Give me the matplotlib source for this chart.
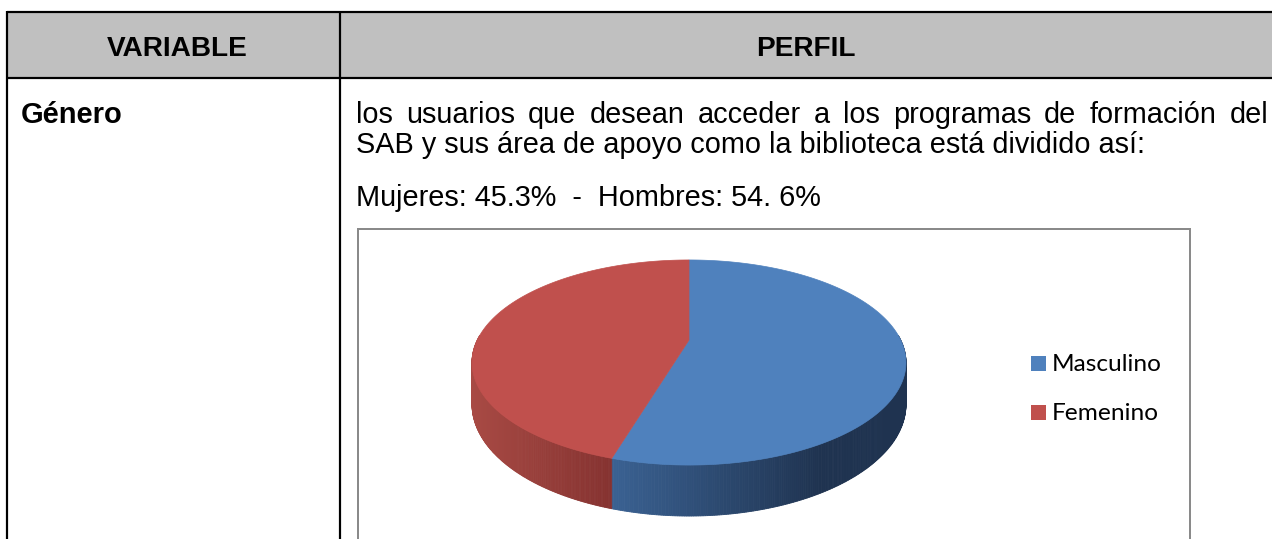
import numpy as np
import matplotlib
matplotlib.use("Agg")
import matplotlib.pyplot as plt
from matplotlib.patches import Polygon, Rectangle

# ---------------- data ----------------
labels = ["Masculino", "Femenino"]
values = [54.6, 45.3]
top_colors = ["#4F81BD", "#C0504D"]
side_light = ["#3A6192", "#A84A44"]
side_dark = ["#1F3350", "#853230"]

headers = ["VARIABLE", "PERFIL"]
variable_name = "Género"
line1_words = "los usuarios que desean acceder a los programas de formación del".split()
line2 = "SAB y sus área de apoyo como la biblioteca está dividido así:"
summary = "Mujeres: 45.3%  -  Hombres: 54. 6%"

# ---------------- figure ----------------
W, H = 1272, 539
fig = plt.figure(figsize=(W / 100, H / 100), dpi=100)
ax = fig.add_axes([0, 0, 1, 1])
ax.set_xlim(0, W)
ax.set_ylim(H, 0)
ax.axis("off")
renderer = fig.canvas.get_renderer()

def px(p):
    return p * 0.72

# table
ax.add_patch(Rectangle((7, 12), W - 7 + 5, 66, facecolor="#C0C0C0", edgecolor="none", zorder=1))
lw_tab = px(2.2)
ax.plot([7, W + 5], [12, 12], color="black", lw=lw_tab, zorder=3, solid_capstyle="butt")
ax.plot([7, W + 5], [78, 78], color="black", lw=lw_tab, zorder=3, solid_capstyle="butt")
ax.plot([7, 7], [11, H + 5], color="black", lw=lw_tab, zorder=3, solid_capstyle="butt")
ax.plot([340, 340], [11, H + 5], color="black", lw=lw_tab, zorder=3, solid_capstyle="butt")

hfont = dict(family="Liberation Sans", weight="bold", fontsize=20.2)
ax.text(177, 56, headers[0], ha="center", va="baseline", **hfont)
ax.text(806, 56, headers[1], ha="center", va="baseline", **hfont)
ax.text(21, 123, variable_name, ha="left", va="baseline",
        family="Liberation Sans", weight="bold", fontsize=21)

bfont = dict(family="Liberation Sans", fontsize=20.8)

# justified first line
x0, x1 = 356, 1268
tmp = [ax.text(0, 0, w, **bfont) for w in line1_words]
widths = [t.get_window_extent(renderer).width for t in tmp]
for t in tmp:
    t.remove()
gap = (x1 - x0 - sum(widths)) / (len(line1_words) - 1)
x = x0
for w, wd in zip(line1_words, widths):
    ax.text(x, 123, w, ha="left", va="baseline", **bfont)
    x += wd + gap
ax.text(356, 153, line2, ha="left", va="baseline", **bfont)
ax.text(356, 206, summary, ha="left", va="baseline", **bfont)

# chart box
ax.add_patch(Rectangle((358, 229), 832, 400, facecolor="white", edgecolor="#8A8A8A",
                       lw=px(2), zorder=2))

# ---------------- 3D pie ----------------
cx, cy = 689.0, 340.0
A, B, p, hgt = 211.7, 97.6, 0.2195, 39.8

def proj(t, z=0.0):
    X, Y = np.cos(t), np.sin(t)
    d = 1 + p * Y
    return cx + A * X / d, cy - B * Y / d + hgt * z / d

total = sum(values)
bounds = []
start = np.pi / 2
for v in values:
    end = start - 2 * np.pi * v / total
    bounds.append((start, end))
    start = end

def lerp_col(c1, c2, f):
    a = np.array(matplotlib.colors.to_rgb(c1))
    b = np.array(matplotlib.colors.to_rgb(c2))
    return tuple(a + (b - a) * f)

grad_x = [(613, 820), (472, 613)]

# sides (front half only)
for i, (s, e) in enumerate(bounds):
    ts = np.linspace(s, e, 400)
    for k in range(len(ts) - 1):
        ta, tb = ts[k], ts[k + 1]
        if np.sin((ta + tb) / 2) > 0.05:
            continue
        xa, ya = proj(ta)
        xb, yb = proj(tb)
        xa2, ya2 = proj(ta, 1)
        xb2, yb2 = proj(tb, 1)
        xm = (xa + xb) / 2
        g0, g1 = grad_x[i]
        f = np.clip((xm - g0) / (g1 - g0), 0, 1)
        col = lerp_col(side_light[i], side_dark[i], f)
        ax.add_patch(Polygon([(xa, ya), (xb, yb), (xb2, yb2), (xa2, ya2)], closed=True,
                             facecolor=col, edgecolor=col, lw=0.6, zorder=4))

# tops
for i, (s, e) in enumerate(bounds):
    ts = np.linspace(s, e, 300)
    pts = [(cx, cy)] + [proj(t) for t in ts]
    ax.add_patch(Polygon(pts, closed=True, facecolor=top_colors[i], edgecolor=top_colors[i],
                         lw=0.5, zorder=5))

# legend
lfont = dict(family="Lato", fontsize=17.6)
for i, lab in enumerate(labels):
    yc = 363 + 49 * i
    ax.add_patch(Rectangle((1031, yc - 7.5), 15, 15, facecolor=top_colors[i], edgecolor="none", zorder=6))
    ax.text(1052, yc + 1.5, lab, ha="left", va="center", zorder=6, **lfont)

fig.savefig("out.png", dpi=100)
